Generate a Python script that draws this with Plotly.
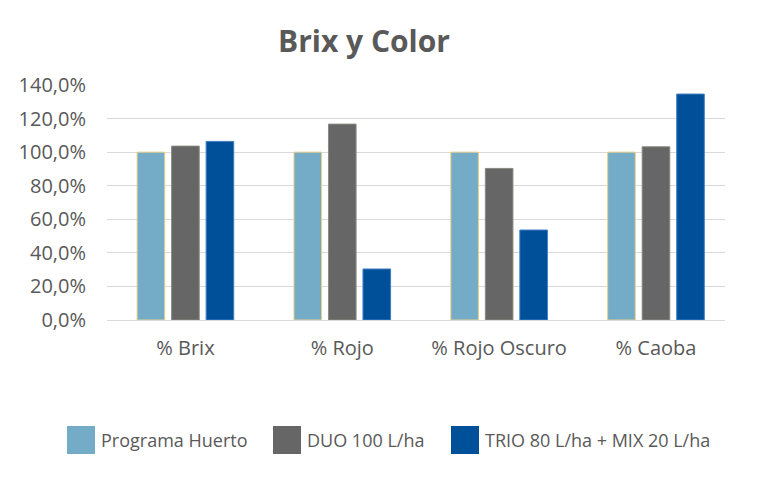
import plotly.graph_objects as go

categorias = ["% Brix", "% Rojo", "% Rojo Oscuro", "% Caoba"]
programa_huerto = [100.0, 100.0, 100.0, 100.0]
duo_100 = [103.6, 116.7, 90.3, 103.2]
trio_mix = [106.4, 30.4, 53.6, 134.6]

series = ["Programa Huerto", "DUO 100 L/ha", "TRIO 80 L/ha + MIX 20 L/ha"]
colores = ["#74ACC8", "#666666", "#005099"]
bordes = ["#E9CF86", "#8A8A80", "#3F7FC4"]

# plot area in page pixels
PL, PT, PW, PH = 99, 77, 618, 235


def px(x):
    return (x - PL) / PW


def py(y):
    return (PT + PH - y) / PH


fig = go.Figure()
for nombre, valores, c, b in zip(series, [programa_huerto, duo_100, trio_mix], colores, bordes):
    fig.add_trace(go.Bar(x=categorias, y=valores, name=nombre, showlegend=False,
                         marker=dict(color=c, line=dict(color=b, width=1))))

# legend drawn by hand so the swatches are as large as in the original
shapes = []
annotations = []
legend_x = [59, 265, 443]
for nombre, c, lx in zip(series, colores, legend_x):
    shapes.append(dict(type="rect", xref="paper", yref="paper",
                       x0=px(lx), x1=px(lx + 28), y0=py(446), y1=py(418),
                       fillcolor=c, line=dict(width=0)))
    annotations.append(dict(text=nombre, xref="paper", yref="paper",
                            x=px(lx + 32), y=py(432), xanchor="left", yanchor="middle",
                            showarrow=False, font=dict(size=18, color="#595959")))

fig.update_layout(
    width=780, height=480,
    margin=dict(l=PL, r=780 - PL - PW, t=PT, b=480 - PT - PH),
    paper_bgcolor="white", plot_bgcolor="white",
    font=dict(family="Open Sans", color="#595959"),
    separators=",.",
    title=dict(text="<b>Brix y Color</b>", x=356 / 780, xanchor="center",
               y=1 - 33 / 480, yanchor="middle",
               font=dict(size=30, color="#595959")),
    barmode="group", bargap=0.34, bargroupgap=0.2,
    shapes=shapes, annotations=annotations,
)
fig.update_yaxes(range=[0, 140], dtick=20, tickformat=".1f", ticksuffix="%",
                 showgrid=True, gridcolor="#D9D9D9", gridwidth=1, zeroline=False,
                 tickfont=dict(size=20, color="#595959"), ticklabelstandoff=20,
                 fixedrange=True)
fig.update_xaxes(range=[-0.5, 3.44], showline=True, linecolor="#D9D9D9", linewidth=1,
                 tickfont=dict(size=20, color="#595959"), ticklabelstandoff=10)

fig.write_html("out.html")
